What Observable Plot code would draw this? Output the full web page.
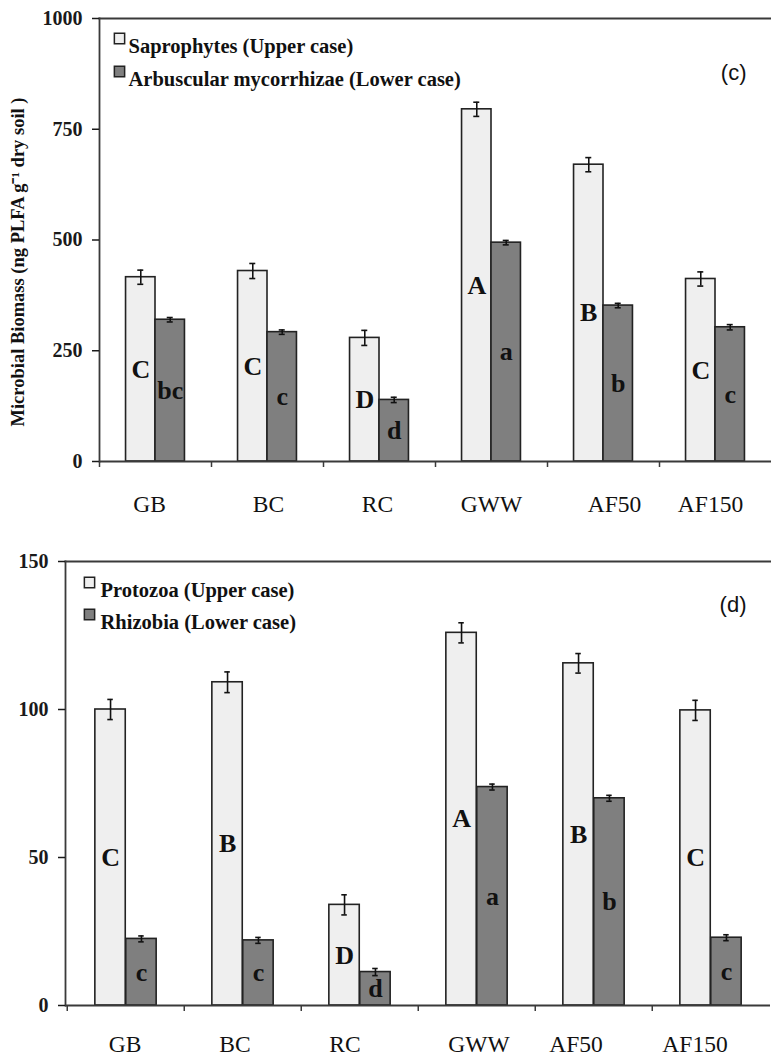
<!DOCTYPE html>
<html>
<head>
<meta charset="utf-8">
<script src="https://cdn.jsdelivr.net/npm/d3@7"></script>
<script src="https://cdn.jsdelivr.net/npm/@observablehq/plot@0.6"></script>
<style>
  html, body { margin: 0; padding: 0; background: #fff; }
  #chart svg { display: block; }
</style>
</head>
<body>
<div id="chart"></div>
<script>
// Treatments (shared by both panels)
const categories = ["GB", "BC", "RC", "GWW", "AF50", "AF150"];

// Panel (c): saprophytes vs arbuscular mycorrhizae (ng PLFA g-1 dry soil)
const saprophytes        = [416, 430, 279, 795, 670, 412];
const saprophytesErr     = [16, 17, 17, 16, 16, 16];
const saprophytesLetters = ["C", "C", "D", "A", "B", "C"];
const mycorrhizae        = [320, 292, 139, 494, 352, 303];
const mycorrhizaeErr     = [5, 5, 6, 5, 5, 6];
const mycorrhizaeLetters = ["bc", "c", "d", "a", "b", "c"];

// Panel (d): protozoa vs rhizobia
const protozoa        = [100.0, 109.2, 34.0, 125.9, 115.6, 99.7];
const protozoaErr     = [3.4, 3.5, 3.4, 3.4, 3.3, 3.4];
const protozoaLetters = ["C", "B", "D", "A", "B", "C"];
const rhizobia        = [22.5, 22.0, 11.3, 73.8, 70.0, 22.9];
const rhizobiaErr     = [1.0, 1.0, 1.2, 1.0, 1.0, 1.0];
const rhizobiaLetters = ["c", "c", "d", "a", "b", "c"];

// Axis ticks
const ticksC = [0, 250, 500, 750, 1000];
const ticksD = [0, 50, 100, 150];

const SERIF = "'Liberation Serif', 'Times New Roman', Times, serif";
const SANS = "'Liberation Sans', Arial, Helvetica, sans-serif";
const LIGHT = "#efefef";
const DARK = "#7f7f7f";
const INK = "#222";
const AXIS = "#3a3a3a";

function groupedPanel({upper, lower, yTicks, yLabel, tag, layout}) {
  const {width, height, marginLeft, marginRight, marginTop, marginBottom,
         legend, tagPos, labelDy, labelDx, yLabelPos} = layout;
  const bw = (width - marginLeft - marginRight) / categories.length;
  const barW = bw * 0.263;

  const toRows = s => categories.map((c, i) => ({
    category: c, value: s.values[i], err: s.errs[i], letter: s.letters[i]
  }));

  // bars, error bars with caps, and significance letters for one series
  const seriesMarks = (s, side) => {
    const rows = toRows(s);
    const shift = side * barW / 2;
    return [
      Plot.barY(rows, {
        x: "category", y: "value", fill: s.fill, stroke: INK, strokeWidth: 1.6,
        insetLeft: side < 0 ? bw / 2 - barW : bw / 2,
        insetRight: side < 0 ? bw / 2 : bw / 2 - barW
      }),
      Plot.ruleX(rows, {
        x: "category", y1: d => d.value - d.err, y2: d => d.value + d.err,
        dx: shift, stroke: "#111", strokeWidth: 1.6
      }),
      Plot.tickY(rows, {
        x: "category", y: d => d.value + d.err, dx: shift,
        inset: bw / 2 - 3, stroke: "#111", strokeWidth: 1.6
      }),
      Plot.tickY(rows, {
        x: "category", y: d => d.value - d.err, dx: shift,
        inset: bw / 2 - 3, stroke: "#111", strokeWidth: 1.6
      }),
      Plot.text(rows, {
        x: "category", y: d => d.value / 2, text: "letter", dx: shift,
        fontFamily: SERIF, fontWeight: "bold", fontSize: 26, fill: "#111"
      })
    ];
  };

  const legendMarks = [upper, lower].flatMap((s, i) => [
    Plot.dot([s.name], {
      frameAnchor: "top-left", dx: legend.swatchDx, dy: legend.dy + i * legend.gap,
      symbol: "square", r: 5.8, fill: s.fill, stroke: INK, strokeWidth: 1.5
    }),
    Plot.text([s.name], {
      frameAnchor: "top-left", dx: legend.textDx, dy: legend.dy + i * legend.gap,
      text: d => d, textAnchor: "start", fontFamily: SERIF, fontWeight: "bold",
      fontSize: 20.5, fill: "#111"
    })
  ]);

  const categoryLabels = categories.map((c, i) =>
    Plot.text([c], {
      x: d => d, text: d => d, frameAnchor: "bottom", dy: labelDy, dx: labelDx[i],
      fontFamily: SERIF, fontSize: 23.5, fill: "#111"
    })
  );

  const marks = [
    ...seriesMarks(upper, -1),
    ...seriesMarks(lower, +1),
    Plot.frame({anchor: "left", stroke: AXIS, strokeWidth: 1.8}),
    Plot.frame({anchor: "top", stroke: AXIS, strokeWidth: 1.8}),
    Plot.ruleY([0], {stroke: AXIS, strokeWidth: 1.8}),
    Plot.axisY({
      ticks: yTicks, tickSize: 7, tickPadding: 10, tickFormat: d => String(d),
      label: null, fontFamily: SERIF, fontWeight: "bold", fontSize: 20,
      color: "#1a1a1a", strokeWidth: 1.5
    }),
    Plot.axisX({
      tickSize: 6, tickFormat: () => "", label: null, dx: -bw / 2,
      color: AXIS, strokeWidth: 1.5
    }),
    ...categoryLabels,
    ...legendMarks,
    Plot.text([tag], {
      frameAnchor: "top-right", dx: tagPos.dx, dy: tagPos.dy, text: d => d,
      fontFamily: SANS, fontSize: 22, fill: "#111"
    })
  ];

  if (yLabel) {
    marks.push(Plot.text([yLabel], {
      frameAnchor: "left", rotate: -90, textAnchor: "middle",
      dx: yLabelPos.dx, dy: yLabelPos.dy, text: d => d,
      fontFamily: SERIF, fontWeight: "bold", fontSize: 18.5, fill: "#111"
    }));
  }

  return Plot.plot({
    width, height, marginLeft, marginRight, marginTop, marginBottom,
    style: {background: "#fff", overflow: "visible"},
    x: {type: "band", domain: categories, padding: 0},
    y: {domain: [yTicks[0], yTicks[yTicks.length - 1]]},
    marks
  });
}

const panelC = groupedPanel({
  upper: {name: "Saprophytes (Upper case)", values: saprophytes, errs: saprophytesErr,
          letters: saprophytesLetters, fill: LIGHT},
  lower: {name: "Arbuscular mycorrhizae (Lower case)", values: mycorrhizae, errs: mycorrhizaeErr,
          letters: mycorrhizaeLetters, fill: DARK},
  yTicks: ticksC,
  yLabel: "Microbial Biomass (ng PLFA g\u207B\u00B9 dry soil )",
  tag: "(c)",
  layout: {
    width: 771, height: 540, marginLeft: 99, marginRight: 0, marginTop: 18, marginBottom: 79,
    legend: {swatchDx: 20, textDx: 29, dy: 20, gap: 33},
    tagPos: {dx: -25, dy: 46},
    labelDy: 50, labelDx: [-6, 1, -2, 0, 11, -5],
    yLabelPos: {dx: -81, dy: 22}
  }
});

const panelD = groupedPanel({
  upper: {name: "Protozoa (Upper case)", values: protozoa, errs: protozoaErr,
          letters: protozoaLetters, fill: LIGHT},
  lower: {name: "Rhizobia (Lower case)", values: rhizobia, errs: rhizobiaErr,
          letters: rhizobiaLetters, fill: DARK},
  yTicks: ticksD,
  yLabel: null,
  tag: "(d)",
  layout: {
    width: 771, height: 524, marginLeft: 65, marginRight: 1, marginTop: 21, marginBottom: 59,
    legend: {swatchDx: 24, textDx: 35, dy: 21, gap: 32},
    tagPos: {dx: -24, dy: 35},
    labelDy: 46, labelDx: [-1, -8, -15, 2, -18, -16],
    yLabelPos: {dx: 0, dy: 0}
  }
});

document.getElementById("chart").append(panelC, panelD);
</script>
</body>
</html>
